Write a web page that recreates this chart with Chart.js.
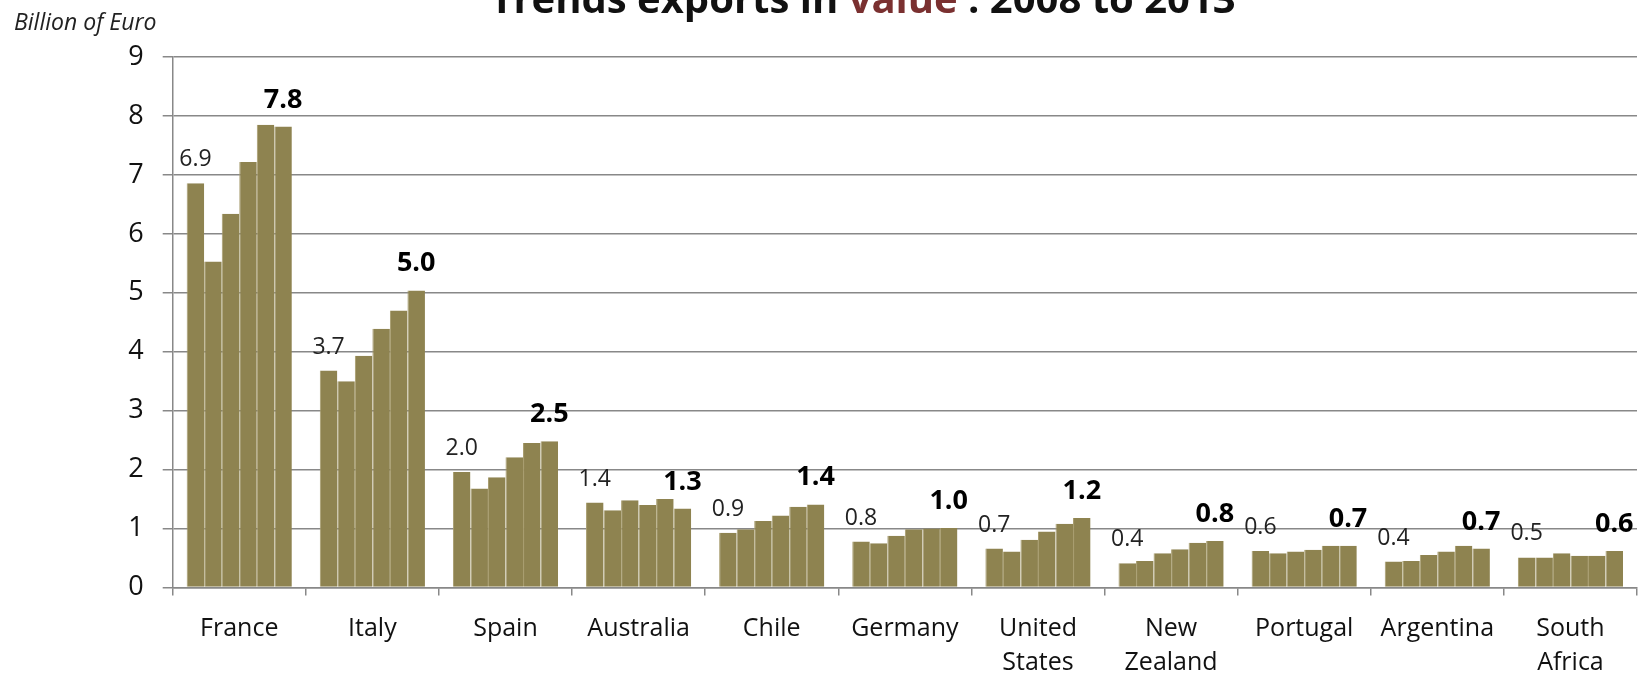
<!DOCTYPE html>
<html>
<head>
<meta charset="utf-8">
<title>Trends exports in value : 2008 to 2013</title>
<script src="https://cdn.jsdelivr.net/npm/chart.js@4"></script>
<style>
  html, body { margin: 0; padding: 0; background: #fff; }
  #wrap { width: 1639px; height: 674px; position: relative; }
  canvas { display: block; }
</style>
</head>
<body>
<div id="wrap"><canvas id="exportsChart" width="1639" height="674"></canvas></div>
<script>
// Wine exports per country, billion euro, one series per year
const countries = ['France', 'Italy', 'Spain', 'Australia', 'Chile', 'Germany',
  ['United', 'States'], ['New', 'Zealand'], 'Portugal', 'Argentina', ['South', 'Africa']];
const years = ['2008', '2009', '2010', '2011', '2012', '2013'];

const v2008 = [6.86, 3.68, 1.96, 1.44, 0.93, 0.78, 0.66, 0.41, 0.62, 0.44, 0.51];
const v2009 = [5.53, 3.50, 1.68, 1.31, 0.99, 0.75, 0.61, 0.45, 0.58, 0.45, 0.51];
const v2010 = [6.34, 3.93, 1.87, 1.48, 1.13, 0.88, 0.81, 0.58, 0.61, 0.55, 0.58];
const v2011 = [7.22, 4.39, 2.21, 1.40, 1.22, 0.99, 0.95, 0.65, 0.64, 0.61, 0.54];
const v2012 = [7.85, 4.70, 2.45, 1.50, 1.37, 1.00, 1.08, 0.76, 0.71, 0.71, 0.54];
const v2013 = [7.82, 5.04, 2.48, 1.34, 1.41, 1.01, 1.18, 0.79, 0.71, 0.66, 0.62];

const yTicks = [0, 1, 2, 3, 4, 5, 6, 7, 8, 9];

const BAR = '#8e8350';
const GRID = '#888';
const FONT = "'Open Sans', 'DejaVu Sans', sans-serif";

Chart.defaults.font.family = FONT;
Chart.defaults.color = '#111';

// title, partly above the top edge, with "value" in dark red
const titlePlugin = {
  id: 'titleText',
  afterDraw(chart) {
    const ctx = chart.ctx;
    const parts = [
      ['Trends exports in ', '#111'],
      ['value', '#7a3030'],
      [' : 2008 to 2013', '#111']
    ];
    ctx.save();
    ctx.font = 'bold 40px ' + FONT;
    ctx.textBaseline = 'alphabetic';
    ctx.textAlign = 'left';
    const total = parts.reduce((w, p) => w + ctx.measureText(p[0]).width, 0);
    let x = 863 - total / 2;
    parts.forEach(p => {
      ctx.fillStyle = p[1];
      ctx.fillText(p[0], x, 13);
      x += ctx.measureText(p[0]).width;
    });

    ctx.font = 'italic 23px ' + FONT;
    ctx.fillStyle = '#222';
    ctx.fillText('Billion of Euro', 14, 30);
    ctx.restore();
  }
};

// first-year value above the first bar, last-year value (bold) above the last bar
const valueLabels = {
  id: 'valueLabels',
  afterDatasetsDraw(chart) {
    const ctx = chart.ctx;
    const last = chart.data.datasets.length - 1;
    ctx.save();
    ctx.textAlign = 'center';
    ctx.textBaseline = 'alphabetic';
    [0, last].forEach(di => {
      const meta = chart.getDatasetMeta(di);
      const values = chart.data.datasets[di].data;
      const bold = di === last;
      ctx.font = (bold ? 'bold 27px ' : '23px ') + FONT;
      ctx.fillStyle = bold ? '#000' : '#222';
      meta.data.forEach((bar, i) => {
        ctx.fillText(values[i].toFixed(1), bar.x, bar.y - (bold ? 19 : 17));
      });
    });
    ctx.restore();
  }
};

const series = [v2008, v2009, v2010, v2011, v2012, v2013];

new Chart(document.getElementById('exportsChart'), {
  type: 'bar',
  data: {
    labels: countries,
    datasets: series.map((vals, i) => ({
      label: years[i],
      data: vals,
      backgroundColor: BAR,
      borderColor: '#a79c6d',
      borderWidth: { left: 1, right: 0, top: 0, bottom: 0 },
      borderSkipped: false,
      categoryPercentage: 0.79,
      barPercentage: 1.0
    }))
  },
  options: {
    responsive: false,
    animation: false,
    devicePixelRatio: 1,
    layout: { padding: { top: 57, right: 2, left: 0, bottom: 0 } },
    plugins: {
      legend: { display: false },
      tooltip: { enabled: false },
      title: { display: false }
    },
    scales: {
      x: {
        grid: {
          offset: true,
          drawOnChartArea: false,
          drawTicks: true,
          tickLength: 8,
          color: GRID,
          lineWidth: 1.5
        },
        border: { color: GRID, width: 1.5 },
        ticks: {
          autoSkip: false,
          maxRotation: 0,
          padding: 17,
          color: '#111',
          font: { size: 25, lineHeight: 1.34 }
        },
        afterFit(scale) { scale.height = 86.5; }
      },
      y: {
        min: 0,
        max: 9,
        afterBuildTicks(scale) { scale.ticks = yTicks.map(v => ({ value: v })); },
        grid: {
          color: GRID,
          lineWidth: 1.5,
          tickLength: 10
        },
        border: { color: GRID, width: 1.5 },
        ticks: {
          padding: 19,
          color: '#111',
          font: { size: 27 }
        },
        afterFit(scale) { scale.width = 172.7; }
      }
    }
  },
  plugins: [titlePlugin, valueLabels]
});
</script>
</body>
</html>
